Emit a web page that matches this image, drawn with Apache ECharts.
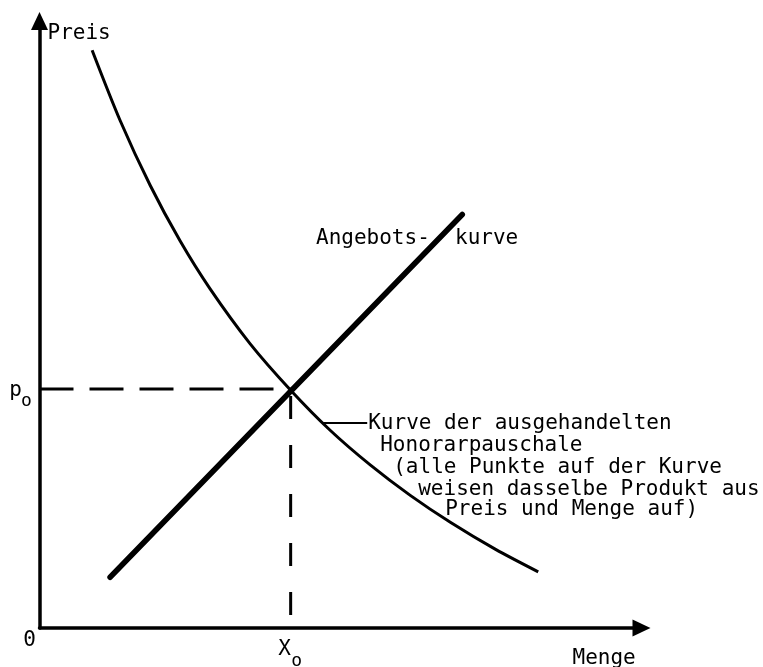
<!DOCTYPE html>
<html><head><meta charset="utf-8">
<script src="https://cdn.jsdelivr.net/npm/echarts@6/dist/echarts.min.js"></script>
<style>html,body{margin:0;padding:0;background:#fff}#c{width:763px;height:667px}</style>
</head><body><div id="c"></div>
<script>
// ---- data ----
const axisNameX = 'Menge';
const axisNameY = 'Preis';
const originLabel = '0';
const eqX = 42;   // X0
const eqP = 40;   // p0
const tickLabelX = ['X', 'o'];
const tickLabelY = ['p', 'o'];
const demandX = [8.8, 13.5, 18.5, 23.5, 28.5, 35.2, 42.0, 48.6, 55.3, 62.0, 68.7, 76.2, 83.4];
const demandY = [96.7, 84.9, 74.1, 64.8, 56.8, 47.6, 39.8, 33.1, 27.3, 22.2, 17.7, 13.2, 9.4];
const supplyX = [11.8, 70.7];
const supplyY = [8.5, 69.2];
const supplyLabel = ['Angebots-', 'kurve'];
const noteLeaderX = [47.3, 54.8];
const noteLeaderY = [34.3, 34.3];
const curveNote = ['Kurve der ausgehandelten', 'Honorarpauschale', '(alle Punkte auf der Kurve', 'weisen dasselbe Produkt aus', 'Preis und Menge auf)'];

// ---- chart ----
const chart = echarts.init(document.getElementById('c'), null, {renderer: 'canvas'});
const FONT = '21px "DejaVu Sans Mono"';
const SMALL = '18px "DejaVu Sans Mono"';
const zip = (a, b) => a.map((v, i) => [v, b[i]]);

const axisCommon = {
  type: 'value', min: 0, max: 100,
  splitLine: {show: false}, axisTick: {show: false}, axisLabel: {show: false},
  axisLine: {show: true, onZero: false, symbol: ['none', 'triangle'], symbolSize: [17, 18],
    lineStyle: {color: '#000', width: 3.5}}
};

chart.setOption({
  animation: false,
  backgroundColor: '#fff',
  grid: {left: 39.5, bottom: 39, width: 598, height: 597.5},
  xAxis: Object.assign({}, axisCommon, {axisLine: Object.assign({}, axisCommon.axisLine, {symbolOffset: [0, 4]})}),
  yAxis: Object.assign({}, axisCommon, {axisLine: Object.assign({}, axisCommon.axisLine, {symbolOffset: [0, 9.5]})}),
  series: [
    {type: 'line', data: zip(demandX, demandY), smooth: 0.3, showSymbol: false,
      lineStyle: {color: '#000', width: 3}},
    {type: 'line', data: zip(supplyX, supplyY), showSymbol: false,
      lineStyle: {color: '#000', width: 5.5, cap: 'round'}},
    {type: 'line', data: [[0, eqP], [eqX, eqP]], showSymbol: false,
      lineStyle: {color: '#000', width: 3, type: [34, 16]}},
    {type: 'line', data: [[eqX, eqP], [eqX, 0]], showSymbol: false,
      lineStyle: {color: '#000', width: 3, type: [23, 26], dashOffset: 42}},
    {type: 'line', data: zip(noteLeaderX, noteLeaderY), showSymbol: false,
      lineStyle: {color: '#000', width: 2}}
  ]
});

const toPx = (x, y) => chart.convertToPixel({gridIndex: 0}, [x, y]);
const pOrigin = toPx(0, 0);
const pP = toPx(0, eqP);
const pX = toPx(eqX, 0);
const pTop = toPx(0, 100);
const pRight = toPx(100, 0);
const pLead = toPx(noteLeaderX[1], noteLeaderY[1]);

function txt(t, x, y, font, align) {
  return {type: 'text', x: x, y: y, silent: true,
    style: {text: t, font: font || FONT, fill: '#000', textAlign: align || 'left', textVerticalAlign: 'middle'}};
}

const noteDx = [1, 13, 26, 51, 78];
const noteDy = [0, 22, 44, 66, 86];
const g = [
  txt(axisNameY, pTop[0] + 8, pTop[1] + 3),
  txt(axisNameX, pRight[0] - 65, pOrigin[1] + 31),
  txt(originLabel, pOrigin[0] - 10, pOrigin[1] + 13, FONT, 'center'),
  txt(tickLabelY[0], pP[0] - 24, pP[1] + 2, FONT, 'center'),
  txt(tickLabelY[1], pP[0] - 13, pP[1] + 12, SMALL, 'center'),
  txt(tickLabelX[0], pX[0] - 6, pX[1] + 22, FONT, 'center'),
  txt(tickLabelX[1], pX[0] + 6, pX[1] + 33, SMALL, 'center'),
  txt(supplyLabel[0], 316, 239),
  txt(supplyLabel[1], 455, 239)
];
curveNote.forEach((t, i) => g.push(txt(t, pLead[0] + noteDx[i], pLead[1] + noteDy[i])));
chart.setOption({graphic: g});
</script>
</body></html>
